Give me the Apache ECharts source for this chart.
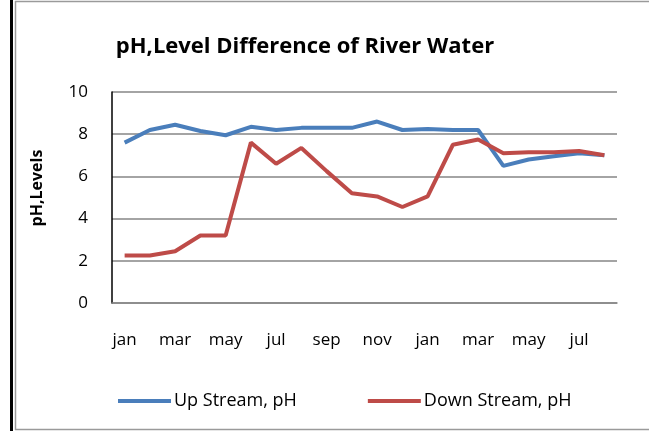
<!DOCTYPE html>
<html>
<head>
<meta charset="utf-8">
<script src="https://cdn.jsdelivr.net/npm/echarts@6/dist/echarts.min.js"></script>
<style>
  html, body { margin: 0; padding: 0; background: #fff; }
  #chart { width: 649px; height: 431px; }
</style>
</head>
<body>
<div id="chart"></div>
<script>
const months = ['jan', 'feb', 'mar', 'apr', 'may', 'jun', 'jul', 'aug', 'sep', 'oct', 'nov', 'dec',
  'jan', 'feb', 'mar', 'apr', 'may', 'jun', 'jul', 'aug'];
const upStream = [7.6, 8.2, 8.45, 8.15, 7.95, 8.35, 8.2, 8.3, 8.3, 8.3, 8.6, 8.2,
  8.25, 8.2, 8.2, 6.5, 6.8, 6.95, 7.1, 7.0];
const downStream = [2.25, 2.25, 2.45, 3.2, 3.2, 7.6, 6.6, 7.35, 6.25, 5.2, 5.05, 4.55,
  5.05, 7.5, 7.75, 7.1, 7.15, 7.15, 7.2, 7.0];
const yTicks = [0, 2, 4, 6, 8, 10];

const font = '"Open Sans", sans-serif';

const myChart = echarts.init(document.getElementById('chart'), null, { renderer: 'canvas' });

const option = {
    backgroundColor: '#fff',
    animation: false,
    textStyle: { fontFamily: font, color: '#000' },
    title: {
        text: 'pH,Level Difference of River Water',
        left: 300,
        top: 31,
        textAlign: 'center',
        textStyle: { fontFamily: font, fontSize: 22, fontWeight: 'bold', color: '#000' }
    },
    grid: { left: 112, right: 32, top: 92, bottom: 128 },
    legend: {
        left: 113,
        top: 387,
        icon: 'rect',
        itemWidth: 53,
        itemHeight: 4,
        itemGap: 71,
        textStyle: { fontFamily: font, fontSize: 18, color: '#000', padding: [0, 0, 0, -2] },
        data: ['Up Stream, pH', 'Down Stream, pH']
    },
    xAxis: {
        type: 'category',
        data: months,
        boundaryGap: true,
        axisTick: { show: false },
        axisLine: { lineStyle: { color: '#868686', width: 1.5 } },
        axisLabel: { interval: 1, margin: 29, fontSize: 17, color: '#000', fontFamily: font }
    },
    yAxis: {
        type: 'value',
        min: yTicks[0],
        max: yTicks[yTicks.length - 1],
        interval: 2,
        axisTick: { show: false },
        axisLine: { show: true, lineStyle: { color: '#000', width: 1.5 } },
        splitLine: { lineStyle: { color: '#868686', width: 1.5 } },
        axisLabel: { margin: 24, fontSize: 17, color: '#000', fontFamily: font }
    },
    series: [{
        name: 'Up Stream, pH',
        type: 'line',
        data: upStream,
        symbol: 'none',
        lineStyle: { color: '#4A7EBB', width: 4 },
        itemStyle: { color: '#4A7EBB' }
    }, {
        name: 'Down Stream, pH',
        type: 'line',
        data: downStream,
        symbol: 'none',
        lineStyle: { color: '#BE4B48', width: 4 },
        itemStyle: { color: '#BE4B48' }
    }],
    graphic: [
        // outer frame
        { type: 'rect', shape: { x: 10, y: 0, width: 3, height: 431 }, style: { fill: '#000' } },
        { type: 'line', shape: { x1: 15.5, y1: 1, x2: 15.5, y2: 430 }, style: { stroke: '#9a9a9a', lineWidth: 1.5 } },
        { type: 'line', shape: { x1: 15, y1: 1.5, x2: 649, y2: 1.5 }, style: { stroke: '#9a9a9a', lineWidth: 1.5 } },
        { type: 'line', shape: { x1: 15, y1: 429.5, x2: 649, y2: 429.5 }, style: { stroke: '#9a9a9a', lineWidth: 1.5 } },
        // y axis title
        {
            type: 'text',
            x: 37,
            y: 188,
            rotation: Math.PI / 2,
            style: {
                text: 'pH,Levels',
                fill: '#000',
                font: 'bold 16px ' + font,
                textAlign: 'center',
                textVerticalAlign: 'middle'
            }
        }
    ]
};

myChart.setOption(option);
</script>
</body>
</html>
